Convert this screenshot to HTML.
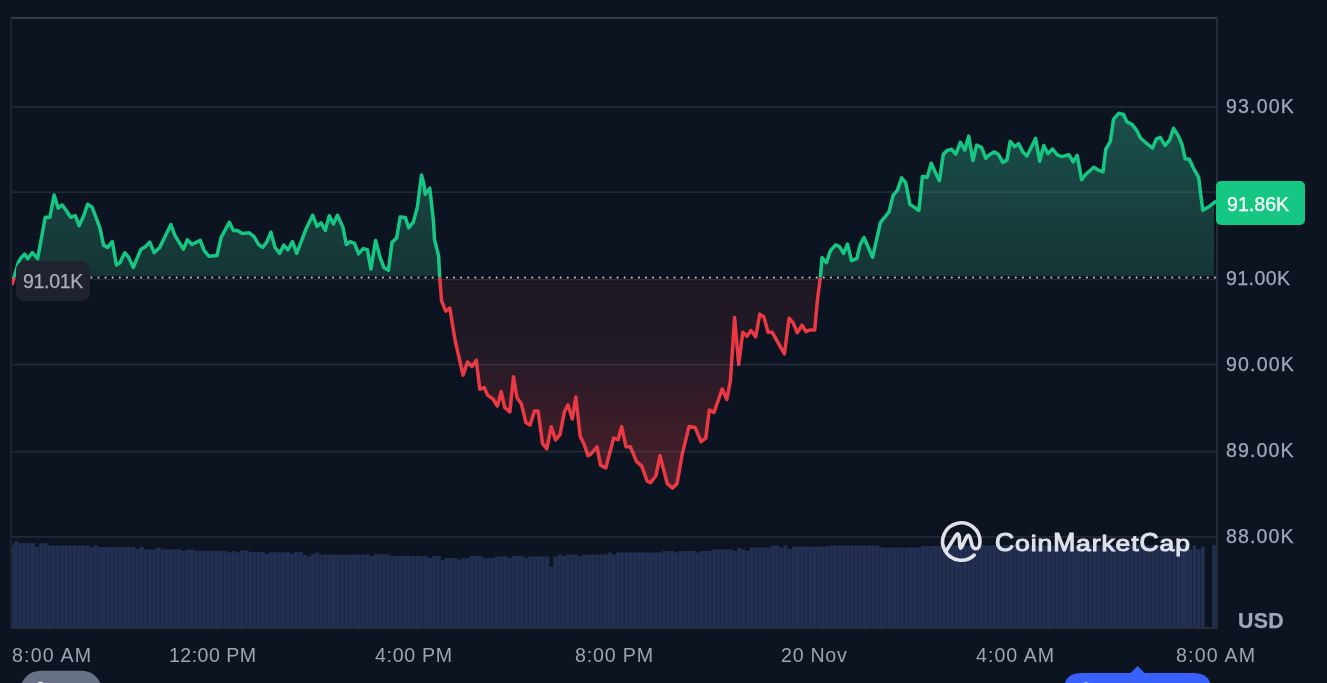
<!DOCTYPE html>
<html><head><meta charset="utf-8"><style>
html,body{margin:0;padding:0;background:#0d1421;width:1327px;height:683px;overflow:hidden}
body{position:relative;font-family:"Liberation Sans",sans-serif}
svg{position:absolute;left:0;top:0}
.t{will-change:transform;position:absolute;white-space:nowrap;color:#a1a7bb;font-size:19.6px;line-height:20px;-webkit-text-stroke:0.25px currentColor}
</style></head><body>
<svg width="1327" height="683" viewBox="0 0 1327 683">
<defs>
<linearGradient id="gg" gradientUnits="userSpaceOnUse" x1="0" y1="113" x2="0" y2="277.5">
<stop offset="0" stop-color="#1b504a"/><stop offset="1" stop-color="#153535"/></linearGradient>
<linearGradient id="rg" gradientUnits="userSpaceOnUse" x1="0" y1="277.5" x2="0" y2="490">
<stop offset="0" stop-color="#1f1823"/><stop offset="0.33" stop-color="#211926"/><stop offset="0.38" stop-color="#251a27"/><stop offset="0.575" stop-color="#331b27"/><stop offset="0.74" stop-color="#3d1e28"/><stop offset="0.89" stop-color="#441e2b"/><stop offset="1" stop-color="#48202c"/></linearGradient>
<clipPath id="cu"><rect x="0" y="0" width="1327" height="277.5"/></clipPath>
<clipPath id="cuf"><rect x="0" y="0" width="1214" height="277.5"/></clipPath>
<clipPath id="cd"><rect x="0" y="277.5" width="1327" height="683"/></clipPath>
</defs>
<g fill="#233052"><rect x="12" y="545" width="2.1" height="82"/><rect x="14.15" y="541.4" width="4.18" height="85.6"/><rect x="18.33" y="543.2" width="4.18" height="83.8"/><rect x="22.51" y="543.2" width="4.18" height="83.8"/><rect x="26.69" y="543.2" width="4.18" height="83.8"/><rect x="30.87" y="543.2" width="4.18" height="83.8"/><rect x="35.05" y="547" width="4.18" height="80.0"/><rect x="39.23" y="543.3" width="4.18" height="83.7"/><rect x="43.41" y="543.3" width="4.18" height="83.7"/><rect x="47.59" y="545.5" width="4.18" height="81.5"/><rect x="51.77" y="545.5" width="4.18" height="81.5"/><rect x="55.96" y="545.5" width="4.18" height="81.5"/><rect x="60.14" y="545.5" width="4.18" height="81.5"/><rect x="64.32" y="545.5" width="4.18" height="81.5"/><rect x="68.50" y="545.5" width="4.18" height="81.5"/><rect x="72.68" y="545.5" width="4.18" height="81.5"/><rect x="76.86" y="545.5" width="4.18" height="81.5"/><rect x="81.04" y="545.5" width="4.18" height="81.5"/><rect x="85.22" y="545.5" width="4.18" height="81.5"/><rect x="89.40" y="547" width="4.18" height="80.0"/><rect x="93.58" y="545.3" width="4.18" height="81.7"/><rect x="97.76" y="547" width="4.18" height="80.0"/><rect x="101.94" y="547" width="4.18" height="80.0"/><rect x="106.12" y="547" width="4.18" height="80.0"/><rect x="110.30" y="547" width="4.18" height="80.0"/><rect x="114.48" y="547" width="4.18" height="80.0"/><rect x="118.66" y="547" width="4.18" height="80.0"/><rect x="122.84" y="547" width="4.18" height="80.0"/><rect x="127.03" y="547" width="4.18" height="80.0"/><rect x="131.21" y="547" width="4.18" height="80.0"/><rect x="135.39" y="549" width="4.18" height="78.0"/><rect x="139.57" y="547" width="4.18" height="80.0"/><rect x="143.75" y="549.5" width="4.18" height="77.5"/><rect x="147.93" y="549.5" width="4.18" height="77.5"/><rect x="152.11" y="549.5" width="4.18" height="77.5"/><rect x="156.29" y="547.5" width="4.18" height="79.5"/><rect x="160.47" y="549.5" width="4.18" height="77.5"/><rect x="164.65" y="549.5" width="4.18" height="77.5"/><rect x="168.83" y="549.5" width="4.18" height="77.5"/><rect x="173.01" y="549.5" width="4.18" height="77.5"/><rect x="177.19" y="549.5" width="4.18" height="77.5"/><rect x="181.37" y="551" width="4.18" height="76.0"/><rect x="185.55" y="549.5" width="4.18" height="77.5"/><rect x="189.73" y="549.5" width="4.18" height="77.5"/><rect x="193.91" y="550.8" width="4.18" height="76.2"/><rect x="198.09" y="550.8" width="4.18" height="76.2"/><rect x="202.28" y="550.8" width="4.18" height="76.2"/><rect x="206.46" y="550.8" width="4.18" height="76.2"/><rect x="210.64" y="550.8" width="4.18" height="76.2"/><rect x="214.82" y="550.8" width="4.18" height="76.2"/><rect x="219.00" y="550.8" width="4.18" height="76.2"/><rect x="223.18" y="550.8" width="4.18" height="76.2"/><rect x="227.36" y="552.5" width="4.18" height="74.5"/><rect x="231.54" y="551" width="4.18" height="76.0"/><rect x="235.72" y="552.5" width="4.18" height="74.5"/><rect x="239.90" y="550.5" width="4.18" height="76.5"/><rect x="244.08" y="550.5" width="4.18" height="76.5"/><rect x="248.26" y="552" width="4.18" height="75.0"/><rect x="252.44" y="552" width="4.18" height="75.0"/><rect x="256.62" y="552" width="4.18" height="75.0"/><rect x="260.80" y="552" width="4.18" height="75.0"/><rect x="264.98" y="554" width="4.18" height="73.0"/><rect x="269.16" y="552.3" width="4.18" height="74.7"/><rect x="273.34" y="552.3" width="4.18" height="74.7"/><rect x="277.52" y="552.3" width="4.18" height="74.7"/><rect x="281.71" y="552.3" width="4.18" height="74.7"/><rect x="285.89" y="552.3" width="4.18" height="74.7"/><rect x="290.07" y="554" width="4.18" height="73.0"/><rect x="294.25" y="552" width="4.18" height="75.0"/><rect x="298.43" y="552" width="4.18" height="75.0"/><rect x="302.61" y="555" width="4.18" height="72.0"/><rect x="306.79" y="556.5" width="4.18" height="70.5"/><rect x="310.97" y="554" width="4.18" height="73.0"/><rect x="315.15" y="552.6" width="4.18" height="74.4"/><rect x="319.33" y="554.5" width="4.18" height="72.5"/><rect x="323.51" y="554.5" width="4.18" height="72.5"/><rect x="327.69" y="554.5" width="4.18" height="72.5"/><rect x="331.87" y="554.5" width="4.18" height="72.5"/><rect x="336.05" y="554.5" width="4.18" height="72.5"/><rect x="340.23" y="554.5" width="4.18" height="72.5"/><rect x="344.41" y="554.5" width="4.18" height="72.5"/><rect x="348.59" y="554.5" width="4.18" height="72.5"/><rect x="352.77" y="554.5" width="4.18" height="72.5"/><rect x="356.96" y="554.5" width="4.18" height="72.5"/><rect x="361.14" y="554.5" width="4.18" height="72.5"/><rect x="365.32" y="554.5" width="4.18" height="72.5"/><rect x="369.50" y="556" width="4.18" height="71.0"/><rect x="373.68" y="554.3" width="4.18" height="72.7"/><rect x="377.86" y="554.3" width="4.18" height="72.7"/><rect x="382.04" y="554.3" width="4.18" height="72.7"/><rect x="386.22" y="554.3" width="4.18" height="72.7"/><rect x="390.40" y="556" width="4.18" height="71.0"/><rect x="394.58" y="556" width="4.18" height="71.0"/><rect x="398.76" y="556" width="4.18" height="71.0"/><rect x="402.94" y="556" width="4.18" height="71.0"/><rect x="407.12" y="556" width="4.18" height="71.0"/><rect x="411.30" y="556" width="4.18" height="71.0"/><rect x="415.48" y="556" width="4.18" height="71.0"/><rect x="419.66" y="556" width="4.18" height="71.0"/><rect x="423.84" y="556" width="4.18" height="71.0"/><rect x="428.02" y="558" width="4.18" height="69.0"/><rect x="432.21" y="556" width="4.18" height="71.0"/><rect x="436.39" y="556" width="4.18" height="71.0"/><rect x="440.57" y="560" width="4.18" height="67.0"/><rect x="444.75" y="558" width="4.18" height="69.0"/><rect x="448.93" y="558" width="4.18" height="69.0"/><rect x="453.11" y="558" width="4.18" height="69.0"/><rect x="457.29" y="559.5" width="4.18" height="67.5"/><rect x="461.47" y="558" width="4.18" height="69.0"/><rect x="465.65" y="558" width="4.18" height="69.0"/><rect x="469.83" y="556" width="4.18" height="71.0"/><rect x="474.01" y="556" width="4.18" height="71.0"/><rect x="478.19" y="556" width="4.18" height="71.0"/><rect x="482.37" y="558" width="4.18" height="69.0"/><rect x="486.55" y="558" width="4.18" height="69.0"/><rect x="490.73" y="558" width="4.18" height="69.0"/><rect x="494.91" y="556.5" width="4.18" height="70.5"/><rect x="499.09" y="556.5" width="4.18" height="70.5"/><rect x="503.27" y="556.5" width="4.18" height="70.5"/><rect x="507.46" y="558" width="4.18" height="69.0"/><rect x="511.64" y="556" width="4.18" height="71.0"/><rect x="515.82" y="556" width="4.18" height="71.0"/><rect x="520.00" y="556" width="4.18" height="71.0"/><rect x="524.18" y="558.5" width="4.18" height="68.5"/><rect x="528.36" y="556.5" width="4.18" height="70.5"/><rect x="532.54" y="556.5" width="4.18" height="70.5"/><rect x="536.72" y="556.5" width="4.18" height="70.5"/><rect x="540.90" y="556.5" width="4.18" height="70.5"/><rect x="545.08" y="556.5" width="4.18" height="70.5"/><rect x="549.26" y="566.6" width="4.18" height="60.4"/><rect x="553.44" y="556.5" width="4.18" height="70.5"/><rect x="557.62" y="554.5" width="4.18" height="72.5"/><rect x="561.80" y="556" width="4.18" height="71.0"/><rect x="565.98" y="554.5" width="4.18" height="72.5"/><rect x="570.16" y="554.5" width="4.18" height="72.5"/><rect x="574.34" y="554.5" width="4.18" height="72.5"/><rect x="578.52" y="556" width="4.18" height="71.0"/><rect x="582.71" y="554.5" width="4.18" height="72.5"/><rect x="586.89" y="554.5" width="4.18" height="72.5"/><rect x="591.07" y="554.5" width="4.18" height="72.5"/><rect x="595.25" y="554.5" width="4.18" height="72.5"/><rect x="599.43" y="554.5" width="4.18" height="72.5"/><rect x="603.61" y="554.5" width="4.18" height="72.5"/><rect x="607.79" y="552.5" width="4.18" height="74.5"/><rect x="611.97" y="554.5" width="4.18" height="72.5"/><rect x="616.15" y="552.5" width="4.18" height="74.5"/><rect x="620.33" y="552.5" width="4.18" height="74.5"/><rect x="624.51" y="552.5" width="4.18" height="74.5"/><rect x="628.69" y="552.5" width="4.18" height="74.5"/><rect x="632.87" y="552.5" width="4.18" height="74.5"/><rect x="637.05" y="552.5" width="4.18" height="74.5"/><rect x="641.23" y="552.5" width="4.18" height="74.5"/><rect x="645.41" y="552.5" width="4.18" height="74.5"/><rect x="649.59" y="552.5" width="4.18" height="74.5"/><rect x="653.77" y="552.5" width="4.18" height="74.5"/><rect x="657.96" y="552.5" width="4.18" height="74.5"/><rect x="662.14" y="551" width="4.18" height="76.0"/><rect x="666.32" y="551" width="4.18" height="76.0"/><rect x="670.50" y="551" width="4.18" height="76.0"/><rect x="674.68" y="552.5" width="4.18" height="74.5"/><rect x="678.86" y="551" width="4.18" height="76.0"/><rect x="683.04" y="551" width="4.18" height="76.0"/><rect x="687.22" y="551" width="4.18" height="76.0"/><rect x="691.40" y="551" width="4.18" height="76.0"/><rect x="695.58" y="552.5" width="4.18" height="74.5"/><rect x="699.76" y="551" width="4.18" height="76.0"/><rect x="703.94" y="551" width="4.18" height="76.0"/><rect x="708.12" y="551" width="4.18" height="76.0"/><rect x="712.30" y="549.5" width="4.18" height="77.5"/><rect x="716.48" y="549.5" width="4.18" height="77.5"/><rect x="720.66" y="549.5" width="4.18" height="77.5"/><rect x="724.84" y="549.5" width="4.18" height="77.5"/><rect x="729.02" y="549.5" width="4.18" height="77.5"/><rect x="733.21" y="551" width="4.18" height="76.0"/><rect x="737.39" y="548" width="4.18" height="79.0"/><rect x="741.57" y="549.5" width="4.18" height="77.5"/><rect x="745.75" y="551" width="4.18" height="76.0"/><rect x="749.93" y="547.5" width="4.18" height="79.5"/><rect x="754.11" y="547.5" width="4.18" height="79.5"/><rect x="758.29" y="547.5" width="4.18" height="79.5"/><rect x="762.47" y="547.5" width="4.18" height="79.5"/><rect x="766.65" y="547.5" width="4.18" height="79.5"/><rect x="770.83" y="545.5" width="4.18" height="81.5"/><rect x="775.01" y="545.5" width="4.18" height="81.5"/><rect x="779.19" y="547.5" width="4.18" height="79.5"/><rect x="783.37" y="545.5" width="4.18" height="81.5"/><rect x="787.55" y="549" width="4.18" height="78.0"/><rect x="791.73" y="546.5" width="4.18" height="80.5"/><rect x="795.91" y="546.5" width="4.18" height="80.5"/><rect x="800.09" y="546.5" width="4.18" height="80.5"/><rect x="804.27" y="546.5" width="4.18" height="80.5"/><rect x="808.46" y="546.5" width="4.18" height="80.5"/><rect x="812.64" y="546.5" width="4.18" height="80.5"/><rect x="816.82" y="546.5" width="4.18" height="80.5"/><rect x="821.00" y="546.5" width="4.18" height="80.5"/><rect x="825.18" y="546.5" width="4.18" height="80.5"/><rect x="829.36" y="545.5" width="4.18" height="81.5"/><rect x="833.54" y="545.5" width="4.18" height="81.5"/><rect x="837.72" y="545.5" width="4.18" height="81.5"/><rect x="841.90" y="545.5" width="4.18" height="81.5"/><rect x="846.08" y="545.5" width="4.18" height="81.5"/><rect x="850.26" y="545.5" width="4.18" height="81.5"/><rect x="854.44" y="545.5" width="4.18" height="81.5"/><rect x="858.62" y="545.5" width="4.18" height="81.5"/><rect x="862.80" y="545.5" width="4.18" height="81.5"/><rect x="866.98" y="545.5" width="4.18" height="81.5"/><rect x="871.16" y="545.5" width="4.18" height="81.5"/><rect x="875.34" y="545.5" width="4.18" height="81.5"/><rect x="879.52" y="547.5" width="4.18" height="79.5"/><rect x="883.71" y="547.5" width="4.18" height="79.5"/><rect x="887.89" y="547.5" width="4.18" height="79.5"/><rect x="892.07" y="547.5" width="4.18" height="79.5"/><rect x="896.25" y="547.5" width="4.18" height="79.5"/><rect x="900.43" y="547.5" width="4.18" height="79.5"/><rect x="904.61" y="547.5" width="4.18" height="79.5"/><rect x="908.79" y="547.5" width="4.18" height="79.5"/><rect x="912.97" y="547.5" width="4.18" height="79.5"/><rect x="917.15" y="547.5" width="4.18" height="79.5"/><rect x="921.33" y="546" width="4.18" height="81.0"/><rect x="925.51" y="546" width="4.18" height="81.0"/><rect x="929.69" y="546" width="4.18" height="81.0"/><rect x="933.87" y="546" width="4.18" height="81.0"/><rect x="938.05" y="545.5" width="4.18" height="81.5"/><rect x="942.23" y="545.5" width="4.18" height="81.5"/><rect x="946.41" y="545.5" width="4.18" height="81.5"/><rect x="950.59" y="545.5" width="4.18" height="81.5"/><rect x="954.77" y="545.5" width="4.18" height="81.5"/><rect x="958.96" y="545.5" width="4.18" height="81.5"/><rect x="963.14" y="545.5" width="4.18" height="81.5"/><rect x="967.32" y="545.5" width="4.18" height="81.5"/><rect x="971.50" y="545.5" width="4.18" height="81.5"/><rect x="975.68" y="545.5" width="4.18" height="81.5"/><rect x="979.86" y="545.5" width="4.18" height="81.5"/><rect x="984.04" y="545.5" width="4.18" height="81.5"/><rect x="988.22" y="545.5" width="4.18" height="81.5"/><rect x="992.40" y="545.5" width="4.18" height="81.5"/><rect x="996.58" y="545.5" width="4.18" height="81.5"/><rect x="1000.76" y="545.5" width="4.18" height="81.5"/><rect x="1004.94" y="545.5" width="4.18" height="81.5"/><rect x="1009.12" y="545.5" width="4.18" height="81.5"/><rect x="1013.30" y="545.5" width="4.18" height="81.5"/><rect x="1017.48" y="545.5" width="4.18" height="81.5"/><rect x="1021.66" y="545.5" width="4.18" height="81.5"/><rect x="1025.84" y="545.5" width="4.18" height="81.5"/><rect x="1030.03" y="545.5" width="4.18" height="81.5"/><rect x="1034.21" y="545.5" width="4.18" height="81.5"/><rect x="1038.39" y="545.5" width="4.18" height="81.5"/><rect x="1042.57" y="545.5" width="4.18" height="81.5"/><rect x="1046.75" y="545.5" width="4.18" height="81.5"/><rect x="1050.93" y="545.5" width="4.18" height="81.5"/><rect x="1055.11" y="545.5" width="4.18" height="81.5"/><rect x="1059.29" y="545.5" width="4.18" height="81.5"/><rect x="1063.47" y="545.5" width="4.18" height="81.5"/><rect x="1067.65" y="545.5" width="4.18" height="81.5"/><rect x="1071.83" y="545.5" width="4.18" height="81.5"/><rect x="1076.01" y="545.5" width="4.18" height="81.5"/><rect x="1080.19" y="545.5" width="4.18" height="81.5"/><rect x="1084.37" y="545.5" width="4.18" height="81.5"/><rect x="1088.55" y="545.5" width="4.18" height="81.5"/><rect x="1092.73" y="545.5" width="4.18" height="81.5"/><rect x="1096.91" y="545.5" width="4.18" height="81.5"/><rect x="1101.09" y="545.5" width="4.18" height="81.5"/><rect x="1105.28" y="545.5" width="4.18" height="81.5"/><rect x="1109.46" y="545.5" width="4.18" height="81.5"/><rect x="1113.64" y="545.5" width="4.18" height="81.5"/><rect x="1117.82" y="545.5" width="4.18" height="81.5"/><rect x="1122.00" y="545.5" width="4.18" height="81.5"/><rect x="1126.18" y="545.5" width="4.18" height="81.5"/><rect x="1130.36" y="545.5" width="4.18" height="81.5"/><rect x="1134.54" y="545.5" width="4.18" height="81.5"/><rect x="1138.72" y="545.5" width="4.18" height="81.5"/><rect x="1142.90" y="545.5" width="4.18" height="81.5"/><rect x="1147.08" y="545.5" width="4.18" height="81.5"/><rect x="1151.26" y="545.5" width="4.18" height="81.5"/><rect x="1155.44" y="545.5" width="4.18" height="81.5"/><rect x="1159.62" y="545.5" width="4.18" height="81.5"/><rect x="1163.80" y="545.5" width="4.18" height="81.5"/><rect x="1167.98" y="545.5" width="4.18" height="81.5"/><rect x="1172.16" y="545.5" width="4.18" height="81.5"/><rect x="1176.34" y="545.5" width="4.18" height="81.5"/><rect x="1180.525" y="545" width="8.27" height="82.0"/><rect x="1189" y="549.2" width="3.40" height="77.8"/><rect x="1192.7" y="545.3" width="3.40" height="81.7"/><rect x="1196.4" y="549.2" width="4.20" height="77.8"/><rect x="1200.9" y="547.1" width="3.80" height="79.9"/><rect x="1212.2" y="545.3" width="3.60" height="81.7"/></g>
<path d="M14.1,545V627M17.93,541.4V627M22.11,543.2V627M26.29,543.2V627M30.47,543.2V627M34.65,543.2V627M38.83,547V627M43.01,543.3V627M47.19,543.3V627M51.38,545.5V627M55.56,545.5V627M59.74,545.5V627M63.92,545.5V627M68.10,545.5V627M72.28,545.5V627M76.46,545.5V627M80.64,545.5V627M84.82,545.5V627M89.00,545.5V627M93.18,547V627M97.36,545.3V627M101.54,547V627M105.72,547V627M109.90,547V627M114.08,547V627M118.26,547V627M122.44,547V627M126.62,547V627M130.81,547V627M134.99,547V627M139.17,549V627M143.35,547V627M147.53,549.5V627M151.71,549.5V627M155.89,549.5V627M160.07,547.5V627M164.25,549.5V627M168.43,549.5V627M172.61,549.5V627M176.79,549.5V627M180.97,549.5V627M185.15,551V627M189.33,549.5V627M193.51,549.5V627M197.69,550.8V627M201.87,550.8V627M206.06,550.8V627M210.24,550.8V627M214.42,550.8V627M218.60,550.8V627M222.78,550.8V627M226.96,550.8V627M231.14,552.5V627M235.32,551V627M239.50,552.5V627M243.68,550.5V627M247.86,550.5V627M252.04,552V627M256.22,552V627M260.40,552V627M264.58,552V627M268.76,554V627M272.94,552.3V627M277.12,552.3V627M281.31,552.3V627M285.49,552.3V627M289.67,552.3V627M293.85,554V627M298.03,552V627M302.21,552V627M306.39,555V627M310.57,556.5V627M314.75,554V627M318.93,552.6V627M323.11,554.5V627M327.29,554.5V627M331.47,554.5V627M335.65,554.5V627M339.83,554.5V627M344.01,554.5V627M348.19,554.5V627M352.38,554.5V627M356.56,554.5V627M360.74,554.5V627M364.92,554.5V627M369.10,554.5V627M373.28,556V627M377.46,554.3V627M381.64,554.3V627M385.82,554.3V627M390.00,554.3V627M394.18,556V627M398.36,556V627M402.54,556V627M406.72,556V627M410.90,556V627M415.08,556V627M419.26,556V627M423.44,556V627M427.62,556V627M431.81,558V627M435.99,556V627M440.17,556V627M444.35,560V627M448.53,558V627M452.71,558V627M456.89,558V627M461.07,559.5V627M465.25,558V627M469.43,558V627M473.61,556V627M477.79,556V627M481.97,556V627M486.15,558V627M490.33,558V627M494.51,558V627M498.69,556.5V627M502.87,556.5V627M507.06,556.5V627M511.24,558V627M515.42,556V627M519.60,556V627M523.78,556V627M527.96,558.5V627M532.14,556.5V627M536.32,556.5V627M540.50,556.5V627M544.68,556.5V627M548.86,556.5V627M553.04,566.6V627M557.22,556.5V627M561.40,554.5V627M565.58,556V627M569.76,554.5V627M573.94,554.5V627M578.12,554.5V627M582.31,556V627M586.49,554.5V627M590.67,554.5V627M594.85,554.5V627M599.03,554.5V627M603.21,554.5V627M607.39,554.5V627M611.57,552.5V627M615.75,554.5V627M619.93,552.5V627M624.11,552.5V627M628.29,552.5V627M632.47,552.5V627M636.65,552.5V627M640.83,552.5V627M645.01,552.5V627M649.19,552.5V627M653.38,552.5V627M657.56,552.5V627M661.74,552.5V627M665.92,551V627M670.10,551V627M674.28,551V627M678.46,552.5V627M682.64,551V627M686.82,551V627M691.00,551V627M695.18,551V627M699.36,552.5V627M703.54,551V627M707.72,551V627M711.90,551V627M716.08,549.5V627M720.26,549.5V627M724.44,549.5V627M728.62,549.5V627M732.81,549.5V627M736.99,551V627M741.17,548V627M745.35,549.5V627M749.53,551V627M753.71,547.5V627M757.89,547.5V627M762.07,547.5V627M766.25,547.5V627M770.43,547.5V627M774.61,545.5V627M778.79,545.5V627M782.97,547.5V627M787.15,545.5V627M791.33,549V627M795.51,546.5V627M799.69,546.5V627M803.88,546.5V627M808.06,546.5V627M812.24,546.5V627M816.42,546.5V627M820.60,546.5V627M824.78,546.5V627M828.96,546.5V627M833.14,545.5V627M837.32,545.5V627M841.50,545.5V627M845.68,545.5V627M849.86,545.5V627M854.04,545.5V627M858.22,545.5V627M862.40,545.5V627M866.58,545.5V627M870.76,545.5V627M874.94,545.5V627M879.12,545.5V627M883.31,547.5V627M887.49,547.5V627M891.67,547.5V627M895.85,547.5V627M900.03,547.5V627M904.21,547.5V627M908.39,547.5V627M912.57,547.5V627M916.75,547.5V627M920.93,547.5V627M925.11,546V627M929.29,546V627M933.47,546V627M937.65,546V627M941.83,545.5V627M946.01,545.5V627M950.19,545.5V627M954.37,545.5V627M958.56,545.5V627M962.74,545.5V627M966.92,545.5V627M971.10,545.5V627M975.28,545.5V627M979.46,545.5V627M983.64,545.5V627M987.82,545.5V627M992.00,545.5V627M996.18,545.5V627M1000.36,545.5V627M1004.54,545.5V627M1008.72,545.5V627M1012.90,545.5V627M1017.08,545.5V627M1021.26,545.5V627M1025.44,545.5V627M1029.62,545.5V627M1033.81,545.5V627M1037.99,545.5V627M1042.17,545.5V627M1046.35,545.5V627M1050.53,545.5V627M1054.71,545.5V627M1058.89,545.5V627M1063.07,545.5V627M1067.25,545.5V627M1071.43,545.5V627M1075.61,545.5V627M1079.79,545.5V627M1083.97,545.5V627M1088.15,545.5V627M1092.33,545.5V627M1096.51,545.5V627M1100.69,545.5V627M1104.88,545.5V627M1109.06,545.5V627M1113.24,545.5V627M1117.42,545.5V627M1121.60,545.5V627M1125.78,545.5V627M1129.96,545.5V627M1134.14,545.5V627M1138.32,545.5V627M1142.50,545.5V627M1146.68,545.5V627M1150.86,545.5V627M1155.04,545.5V627M1159.22,545.5V627M1163.40,545.5V627M1167.58,545.5V627M1171.76,545.5V627M1175.94,545.5V627M1180.12,545.5V627" stroke="#1e2847" stroke-width="0.8" fill="none"/>
<path d="M12.3,283.8 L14.7,275.2 L18.2,262.9 L20.5,258.5 L24.6,254.1 L27.7,258.7 L32.3,252.6 L37.6,258.7 L45.3,217.3 L49.9,217.3 L54.1,195 L58.1,208 L62.2,205 L66.1,210.3 L70.7,217.3 L75.3,215.7 L79.1,225.7 L83.7,215.7 L87.6,204.2 L92.2,207.3 L100,228.1 L103.5,245.1 L107.6,247.4 L112.3,241.6 L116.4,265 L119.9,262.7 L124.8,252.7 L128.7,257.4 L133.4,267.4 L137.5,257.4 L141,249.2 L144.5,247.4 L149.8,242.2 L154.1,252.7 L159.7,247.4 L170.9,224.6 L175,235.7 L183.4,249.2 L187.3,239.8 L192,244.5 L200.2,240.4 L204.1,250.4 L208.8,256.2 L217,255.6 L221.1,237.5 L229.3,222.3 L233.4,230.5 L237.5,230.5 L242.2,233.4 L249.2,232.8 L253.9,236.3 L258.6,244.5 L262.7,247.4 L266.8,242.2 L270.9,232.2 L275,247.4 L279.7,253.3 L283.8,245.1 L287.9,249.8 L292.5,241.6 L296.7,253.3 L301.9,239.8 L305.9,229.3 L312.7,215.2 L317,226.4 L321.1,222.8 L325.2,230.5 L329.3,215.8 L333.4,224 L337.5,215.2 L342.8,226.9 L346.3,244.5 L350.4,241.6 L354.5,243.3 L358.6,253.9 L363.3,248.6 L367.4,249.8 L370.9,269.1 L375.6,240.4 L379.7,256.2 L383.8,267.4 L388.4,270.3 L392,242.2 L396.6,238.1 L400.2,217 L405.4,217.6 L408.7,227.9 L413.3,222.2 L417.4,206.9 L421.5,175.1 L423.8,183.5 L425.2,194.3 L429.8,188.2 L433.4,221 L434.5,239.4 L438.6,255.8 L439.6,276.3 L441.6,300.9 L445.7,311.1 L449.8,308.1 L455.2,341 L463.1,375.2 L467.5,362 L471.9,366.5 L476.3,360.3 L479.8,389.3 L484.2,387.5 L487.7,395.4 L493,399 L497.4,406 L501.2,391.6 L504.7,407.5 L509.9,411.8 L513.5,376.7 L517,397.8 L521.4,403.9 L525.8,422.4 L530.1,425 L534.5,411 L538.1,411 L542.5,443.5 L546.8,448.8 L551.2,426.8 L555.6,440 L560,434.7 L564.4,411.8 L567.9,404.8 L572.3,418.9 L575.8,396.9 L580.2,436.4 L583.8,443.5 L588.1,455.8 L591,454 L597,446.8 L600.5,465.2 L605.8,467.9 L613.7,438 L618.1,439.8 L621.6,426.6 L626,446.8 L630.4,446.8 L636.6,461.7 L641.8,466.1 L647.1,481 L650.6,482.8 L655.9,475.8 L660,455.6 L667.3,483.7 L672.6,488.1 L677,483.7 L682.3,453.8 L689,426.6 L695.2,427.6 L701.1,441.7 L705.8,438.2 L709.3,410 L714,412.4 L722.2,389 L726.8,399.5 L730.4,380.8 L734.6,317.6 L738.7,364.4 L742.8,332.2 L746.9,336.3 L751,330.5 L755.7,336.9 L759.8,314.1 L763.9,317 L768,332.2 L772.1,332.2 L784.4,353.9 L789.1,318.2 L793.2,322.8 L797.3,332.8 L802,325.2 L806.1,331.6 L810.2,329.9 L814.7,330.1 L817.6,298.6 L820.5,276.6 L822,257.6 L826.4,262.7 L830.4,250.7 L835.7,244.8 L839.6,246.8 L843.6,253.4 L847.5,244.1 L851.5,260.6 L856.8,258.6 L860.1,244.8 L864,237.5 L872.6,257.3 L880.5,222.4 L889,212 L893.2,195.2 L897.4,190.4 L901.6,177.9 L905.7,182.7 L909.9,204.3 L914.1,207.1 L918.9,210.5 L922.4,176.5 L927.3,177.2 L931.2,163.2 L935.6,173 L939.5,180.6 L943.3,154.2 L946.8,150.7 L951.6,149.3 L955.8,154.2 L960.4,142.4 L964.8,150 L968.7,136.1 L972.9,160.5 L976.7,145.2 L981.5,147.3 L985.8,158.3 L989.4,154.8 L994.1,151.9 L998.2,154.2 L1002.8,162.4 L1006.9,160.1 L1010.2,141.4 L1014.6,146.6 L1018.7,143.7 L1022.8,151.9 L1026.9,156 L1031,147.8 L1035.6,138.4 L1039.7,161.3 L1043.8,145.5 L1047.9,153.7 L1052.6,149 L1057.3,154.8 L1062,156.6 L1069,154.8 L1073.1,161.9 L1077.2,155.4 L1081.6,179.8 L1085.4,174.7 L1093.8,167.2 L1097.8,169.8 L1103.1,171.8 L1105.7,149.4 L1110.3,141.5 L1113.6,119.1 L1118.9,113.2 L1123.5,114.5 L1126.8,121.7 L1132,124.4 L1136.7,130.3 L1140.6,138.2 L1145.9,142.8 L1152.5,148.1 L1156.4,138.9 L1160.4,137.5 L1165,145.5 L1169.6,140.2 L1173.5,128.3 L1178.2,135.6 L1182.1,144.8 L1185.2,158.8 L1189.3,159.3 L1193.4,168.1 L1198.7,177.5 L1200.5,192.7 L1202.8,210.3 L1208.7,206.8 L1215.7,201.5 L1215.7,277.5 L12.3,277.5 Z" fill="url(#gg)" clip-path="url(#cuf)"/>
<path d="M12.3,283.8 L14.7,275.2 L18.2,262.9 L20.5,258.5 L24.6,254.1 L27.7,258.7 L32.3,252.6 L37.6,258.7 L45.3,217.3 L49.9,217.3 L54.1,195 L58.1,208 L62.2,205 L66.1,210.3 L70.7,217.3 L75.3,215.7 L79.1,225.7 L83.7,215.7 L87.6,204.2 L92.2,207.3 L100,228.1 L103.5,245.1 L107.6,247.4 L112.3,241.6 L116.4,265 L119.9,262.7 L124.8,252.7 L128.7,257.4 L133.4,267.4 L137.5,257.4 L141,249.2 L144.5,247.4 L149.8,242.2 L154.1,252.7 L159.7,247.4 L170.9,224.6 L175,235.7 L183.4,249.2 L187.3,239.8 L192,244.5 L200.2,240.4 L204.1,250.4 L208.8,256.2 L217,255.6 L221.1,237.5 L229.3,222.3 L233.4,230.5 L237.5,230.5 L242.2,233.4 L249.2,232.8 L253.9,236.3 L258.6,244.5 L262.7,247.4 L266.8,242.2 L270.9,232.2 L275,247.4 L279.7,253.3 L283.8,245.1 L287.9,249.8 L292.5,241.6 L296.7,253.3 L301.9,239.8 L305.9,229.3 L312.7,215.2 L317,226.4 L321.1,222.8 L325.2,230.5 L329.3,215.8 L333.4,224 L337.5,215.2 L342.8,226.9 L346.3,244.5 L350.4,241.6 L354.5,243.3 L358.6,253.9 L363.3,248.6 L367.4,249.8 L370.9,269.1 L375.6,240.4 L379.7,256.2 L383.8,267.4 L388.4,270.3 L392,242.2 L396.6,238.1 L400.2,217 L405.4,217.6 L408.7,227.9 L413.3,222.2 L417.4,206.9 L421.5,175.1 L423.8,183.5 L425.2,194.3 L429.8,188.2 L433.4,221 L434.5,239.4 L438.6,255.8 L439.6,276.3 L441.6,300.9 L445.7,311.1 L449.8,308.1 L455.2,341 L463.1,375.2 L467.5,362 L471.9,366.5 L476.3,360.3 L479.8,389.3 L484.2,387.5 L487.7,395.4 L493,399 L497.4,406 L501.2,391.6 L504.7,407.5 L509.9,411.8 L513.5,376.7 L517,397.8 L521.4,403.9 L525.8,422.4 L530.1,425 L534.5,411 L538.1,411 L542.5,443.5 L546.8,448.8 L551.2,426.8 L555.6,440 L560,434.7 L564.4,411.8 L567.9,404.8 L572.3,418.9 L575.8,396.9 L580.2,436.4 L583.8,443.5 L588.1,455.8 L591,454 L597,446.8 L600.5,465.2 L605.8,467.9 L613.7,438 L618.1,439.8 L621.6,426.6 L626,446.8 L630.4,446.8 L636.6,461.7 L641.8,466.1 L647.1,481 L650.6,482.8 L655.9,475.8 L660,455.6 L667.3,483.7 L672.6,488.1 L677,483.7 L682.3,453.8 L689,426.6 L695.2,427.6 L701.1,441.7 L705.8,438.2 L709.3,410 L714,412.4 L722.2,389 L726.8,399.5 L730.4,380.8 L734.6,317.6 L738.7,364.4 L742.8,332.2 L746.9,336.3 L751,330.5 L755.7,336.9 L759.8,314.1 L763.9,317 L768,332.2 L772.1,332.2 L784.4,353.9 L789.1,318.2 L793.2,322.8 L797.3,332.8 L802,325.2 L806.1,331.6 L810.2,329.9 L814.7,330.1 L817.6,298.6 L820.5,276.6 L822,257.6 L826.4,262.7 L830.4,250.7 L835.7,244.8 L839.6,246.8 L843.6,253.4 L847.5,244.1 L851.5,260.6 L856.8,258.6 L860.1,244.8 L864,237.5 L872.6,257.3 L880.5,222.4 L889,212 L893.2,195.2 L897.4,190.4 L901.6,177.9 L905.7,182.7 L909.9,204.3 L914.1,207.1 L918.9,210.5 L922.4,176.5 L927.3,177.2 L931.2,163.2 L935.6,173 L939.5,180.6 L943.3,154.2 L946.8,150.7 L951.6,149.3 L955.8,154.2 L960.4,142.4 L964.8,150 L968.7,136.1 L972.9,160.5 L976.7,145.2 L981.5,147.3 L985.8,158.3 L989.4,154.8 L994.1,151.9 L998.2,154.2 L1002.8,162.4 L1006.9,160.1 L1010.2,141.4 L1014.6,146.6 L1018.7,143.7 L1022.8,151.9 L1026.9,156 L1031,147.8 L1035.6,138.4 L1039.7,161.3 L1043.8,145.5 L1047.9,153.7 L1052.6,149 L1057.3,154.8 L1062,156.6 L1069,154.8 L1073.1,161.9 L1077.2,155.4 L1081.6,179.8 L1085.4,174.7 L1093.8,167.2 L1097.8,169.8 L1103.1,171.8 L1105.7,149.4 L1110.3,141.5 L1113.6,119.1 L1118.9,113.2 L1123.5,114.5 L1126.8,121.7 L1132,124.4 L1136.7,130.3 L1140.6,138.2 L1145.9,142.8 L1152.5,148.1 L1156.4,138.9 L1160.4,137.5 L1165,145.5 L1169.6,140.2 L1173.5,128.3 L1178.2,135.6 L1182.1,144.8 L1185.2,158.8 L1189.3,159.3 L1193.4,168.1 L1198.7,177.5 L1200.5,192.7 L1202.8,210.3 L1208.7,206.8 L1215.7,201.5 L1215.7,277.5 L12.3,277.5 Z" fill="url(#rg)" clip-path="url(#cd)"/>
<path d="M12,277.5H1216" stroke="#0a0e17" stroke-width="2.6"/>
<path d="M13.16,277.5h0M20.27,277.5h0M27.38,277.5h0M34.49,277.5h0M41.60,277.5h0M48.71,277.5h0M55.82,277.5h0M62.93,277.5h0M70.04,277.5h0M77.16,277.5h0M84.27,277.5h0M91.38,277.5h0M98.49,277.5h0M105.60,277.5h0M112.71,277.5h0M119.82,277.5h0M126.93,277.5h0M134.04,277.5h0M141.16,277.5h0M148.27,277.5h0M155.38,277.5h0M162.49,277.5h0M169.60,277.5h0M176.71,277.5h0M183.82,277.5h0M190.93,277.5h0M198.04,277.5h0M205.15,277.5h0M212.26,277.5h0M219.38,277.5h0M226.49,277.5h0M233.60,277.5h0M240.71,277.5h0M247.82,277.5h0M254.93,277.5h0M262.04,277.5h0M269.15,277.5h0M276.26,277.5h0M283.38,277.5h0M290.49,277.5h0M297.60,277.5h0M304.71,277.5h0M311.82,277.5h0M318.93,277.5h0M326.04,277.5h0M333.15,277.5h0M340.26,277.5h0M347.37,277.5h0M354.49,277.5h0M361.60,277.5h0M368.71,277.5h0M375.82,277.5h0M382.93,277.5h0M390.04,277.5h0M397.15,277.5h0M404.26,277.5h0M411.37,277.5h0M418.48,277.5h0M425.60,277.5h0M432.71,277.5h0M439.82,277.5h0M446.93,277.5h0M454.04,277.5h0M461.15,277.5h0M468.26,277.5h0M475.37,277.5h0M482.48,277.5h0M489.59,277.5h0M496.70,277.5h0M503.82,277.5h0M510.93,277.5h0M518.04,277.5h0M525.15,277.5h0M532.26,277.5h0M539.37,277.5h0M546.48,277.5h0M553.59,277.5h0M560.70,277.5h0M567.81,277.5h0M574.93,277.5h0M582.04,277.5h0M589.15,277.5h0M596.26,277.5h0M603.37,277.5h0M610.48,277.5h0M617.59,277.5h0M624.70,277.5h0M631.81,277.5h0M638.92,277.5h0M646.04,277.5h0M653.15,277.5h0M660.26,277.5h0M667.37,277.5h0M674.48,277.5h0M681.59,277.5h0M688.70,277.5h0M695.81,277.5h0M702.92,277.5h0M710.03,277.5h0M717.15,277.5h0M724.26,277.5h0M731.37,277.5h0M738.48,277.5h0M745.59,277.5h0M752.70,277.5h0M759.81,277.5h0M766.92,277.5h0M774.03,277.5h0M781.14,277.5h0M788.26,277.5h0M795.37,277.5h0M802.48,277.5h0M809.59,277.5h0M816.70,277.5h0M823.81,277.5h0M830.92,277.5h0M838.03,277.5h0M845.14,277.5h0M852.25,277.5h0M859.37,277.5h0M866.48,277.5h0M873.59,277.5h0M880.70,277.5h0M887.81,277.5h0M894.92,277.5h0M902.03,277.5h0M909.14,277.5h0M916.25,277.5h0M923.37,277.5h0M930.48,277.5h0M937.59,277.5h0M944.70,277.5h0M951.81,277.5h0M958.92,277.5h0M966.03,277.5h0M973.14,277.5h0M980.25,277.5h0M987.36,277.5h0M994.48,277.5h0M1001.59,277.5h0M1008.70,277.5h0M1015.81,277.5h0M1022.92,277.5h0M1030.03,277.5h0M1037.14,277.5h0M1044.25,277.5h0M1051.36,277.5h0M1058.47,277.5h0M1065.59,277.5h0M1072.70,277.5h0M1079.81,277.5h0M1086.92,277.5h0M1094.03,277.5h0M1101.14,277.5h0M1108.25,277.5h0M1115.36,277.5h0M1122.47,277.5h0M1129.58,277.5h0M1136.69,277.5h0M1143.81,277.5h0M1150.92,277.5h0M1158.03,277.5h0M1165.14,277.5h0M1172.25,277.5h0M1179.36,277.5h0M1186.47,277.5h0M1193.58,277.5h0M1200.69,277.5h0M1207.80,277.5h0M1214.92,277.5h0" stroke="#c4c8d0" stroke-width="2.1" stroke-linecap="round" fill="none"/>
<path d="M12.3,283.8 L14.7,275.2 L18.2,262.9 L20.5,258.5 L24.6,254.1 L27.7,258.7 L32.3,252.6 L37.6,258.7 L45.3,217.3 L49.9,217.3 L54.1,195 L58.1,208 L62.2,205 L66.1,210.3 L70.7,217.3 L75.3,215.7 L79.1,225.7 L83.7,215.7 L87.6,204.2 L92.2,207.3 L100,228.1 L103.5,245.1 L107.6,247.4 L112.3,241.6 L116.4,265 L119.9,262.7 L124.8,252.7 L128.7,257.4 L133.4,267.4 L137.5,257.4 L141,249.2 L144.5,247.4 L149.8,242.2 L154.1,252.7 L159.7,247.4 L170.9,224.6 L175,235.7 L183.4,249.2 L187.3,239.8 L192,244.5 L200.2,240.4 L204.1,250.4 L208.8,256.2 L217,255.6 L221.1,237.5 L229.3,222.3 L233.4,230.5 L237.5,230.5 L242.2,233.4 L249.2,232.8 L253.9,236.3 L258.6,244.5 L262.7,247.4 L266.8,242.2 L270.9,232.2 L275,247.4 L279.7,253.3 L283.8,245.1 L287.9,249.8 L292.5,241.6 L296.7,253.3 L301.9,239.8 L305.9,229.3 L312.7,215.2 L317,226.4 L321.1,222.8 L325.2,230.5 L329.3,215.8 L333.4,224 L337.5,215.2 L342.8,226.9 L346.3,244.5 L350.4,241.6 L354.5,243.3 L358.6,253.9 L363.3,248.6 L367.4,249.8 L370.9,269.1 L375.6,240.4 L379.7,256.2 L383.8,267.4 L388.4,270.3 L392,242.2 L396.6,238.1 L400.2,217 L405.4,217.6 L408.7,227.9 L413.3,222.2 L417.4,206.9 L421.5,175.1 L423.8,183.5 L425.2,194.3 L429.8,188.2 L433.4,221 L434.5,239.4 L438.6,255.8 L439.6,276.3 L441.6,300.9 L445.7,311.1 L449.8,308.1 L455.2,341 L463.1,375.2 L467.5,362 L471.9,366.5 L476.3,360.3 L479.8,389.3 L484.2,387.5 L487.7,395.4 L493,399 L497.4,406 L501.2,391.6 L504.7,407.5 L509.9,411.8 L513.5,376.7 L517,397.8 L521.4,403.9 L525.8,422.4 L530.1,425 L534.5,411 L538.1,411 L542.5,443.5 L546.8,448.8 L551.2,426.8 L555.6,440 L560,434.7 L564.4,411.8 L567.9,404.8 L572.3,418.9 L575.8,396.9 L580.2,436.4 L583.8,443.5 L588.1,455.8 L591,454 L597,446.8 L600.5,465.2 L605.8,467.9 L613.7,438 L618.1,439.8 L621.6,426.6 L626,446.8 L630.4,446.8 L636.6,461.7 L641.8,466.1 L647.1,481 L650.6,482.8 L655.9,475.8 L660,455.6 L667.3,483.7 L672.6,488.1 L677,483.7 L682.3,453.8 L689,426.6 L695.2,427.6 L701.1,441.7 L705.8,438.2 L709.3,410 L714,412.4 L722.2,389 L726.8,399.5 L730.4,380.8 L734.6,317.6 L738.7,364.4 L742.8,332.2 L746.9,336.3 L751,330.5 L755.7,336.9 L759.8,314.1 L763.9,317 L768,332.2 L772.1,332.2 L784.4,353.9 L789.1,318.2 L793.2,322.8 L797.3,332.8 L802,325.2 L806.1,331.6 L810.2,329.9 L814.7,330.1 L817.6,298.6 L820.5,276.6 L822,257.6 L826.4,262.7 L830.4,250.7 L835.7,244.8 L839.6,246.8 L843.6,253.4 L847.5,244.1 L851.5,260.6 L856.8,258.6 L860.1,244.8 L864,237.5 L872.6,257.3 L880.5,222.4 L889,212 L893.2,195.2 L897.4,190.4 L901.6,177.9 L905.7,182.7 L909.9,204.3 L914.1,207.1 L918.9,210.5 L922.4,176.5 L927.3,177.2 L931.2,163.2 L935.6,173 L939.5,180.6 L943.3,154.2 L946.8,150.7 L951.6,149.3 L955.8,154.2 L960.4,142.4 L964.8,150 L968.7,136.1 L972.9,160.5 L976.7,145.2 L981.5,147.3 L985.8,158.3 L989.4,154.8 L994.1,151.9 L998.2,154.2 L1002.8,162.4 L1006.9,160.1 L1010.2,141.4 L1014.6,146.6 L1018.7,143.7 L1022.8,151.9 L1026.9,156 L1031,147.8 L1035.6,138.4 L1039.7,161.3 L1043.8,145.5 L1047.9,153.7 L1052.6,149 L1057.3,154.8 L1062,156.6 L1069,154.8 L1073.1,161.9 L1077.2,155.4 L1081.6,179.8 L1085.4,174.7 L1093.8,167.2 L1097.8,169.8 L1103.1,171.8 L1105.7,149.4 L1110.3,141.5 L1113.6,119.1 L1118.9,113.2 L1123.5,114.5 L1126.8,121.7 L1132,124.4 L1136.7,130.3 L1140.6,138.2 L1145.9,142.8 L1152.5,148.1 L1156.4,138.9 L1160.4,137.5 L1165,145.5 L1169.6,140.2 L1173.5,128.3 L1178.2,135.6 L1182.1,144.8 L1185.2,158.8 L1189.3,159.3 L1193.4,168.1 L1198.7,177.5 L1200.5,192.7 L1202.8,210.3 L1208.7,206.8 L1215.7,201.5" stroke="#16c784" stroke-width="3.5" fill="none" stroke-linejoin="round" stroke-linecap="round" clip-path="url(#cu)"/>
<path d="M12.3,283.8 L14.7,275.2 L18.2,262.9 L20.5,258.5 L24.6,254.1 L27.7,258.7 L32.3,252.6 L37.6,258.7 L45.3,217.3 L49.9,217.3 L54.1,195 L58.1,208 L62.2,205 L66.1,210.3 L70.7,217.3 L75.3,215.7 L79.1,225.7 L83.7,215.7 L87.6,204.2 L92.2,207.3 L100,228.1 L103.5,245.1 L107.6,247.4 L112.3,241.6 L116.4,265 L119.9,262.7 L124.8,252.7 L128.7,257.4 L133.4,267.4 L137.5,257.4 L141,249.2 L144.5,247.4 L149.8,242.2 L154.1,252.7 L159.7,247.4 L170.9,224.6 L175,235.7 L183.4,249.2 L187.3,239.8 L192,244.5 L200.2,240.4 L204.1,250.4 L208.8,256.2 L217,255.6 L221.1,237.5 L229.3,222.3 L233.4,230.5 L237.5,230.5 L242.2,233.4 L249.2,232.8 L253.9,236.3 L258.6,244.5 L262.7,247.4 L266.8,242.2 L270.9,232.2 L275,247.4 L279.7,253.3 L283.8,245.1 L287.9,249.8 L292.5,241.6 L296.7,253.3 L301.9,239.8 L305.9,229.3 L312.7,215.2 L317,226.4 L321.1,222.8 L325.2,230.5 L329.3,215.8 L333.4,224 L337.5,215.2 L342.8,226.9 L346.3,244.5 L350.4,241.6 L354.5,243.3 L358.6,253.9 L363.3,248.6 L367.4,249.8 L370.9,269.1 L375.6,240.4 L379.7,256.2 L383.8,267.4 L388.4,270.3 L392,242.2 L396.6,238.1 L400.2,217 L405.4,217.6 L408.7,227.9 L413.3,222.2 L417.4,206.9 L421.5,175.1 L423.8,183.5 L425.2,194.3 L429.8,188.2 L433.4,221 L434.5,239.4 L438.6,255.8 L439.6,276.3 L441.6,300.9 L445.7,311.1 L449.8,308.1 L455.2,341 L463.1,375.2 L467.5,362 L471.9,366.5 L476.3,360.3 L479.8,389.3 L484.2,387.5 L487.7,395.4 L493,399 L497.4,406 L501.2,391.6 L504.7,407.5 L509.9,411.8 L513.5,376.7 L517,397.8 L521.4,403.9 L525.8,422.4 L530.1,425 L534.5,411 L538.1,411 L542.5,443.5 L546.8,448.8 L551.2,426.8 L555.6,440 L560,434.7 L564.4,411.8 L567.9,404.8 L572.3,418.9 L575.8,396.9 L580.2,436.4 L583.8,443.5 L588.1,455.8 L591,454 L597,446.8 L600.5,465.2 L605.8,467.9 L613.7,438 L618.1,439.8 L621.6,426.6 L626,446.8 L630.4,446.8 L636.6,461.7 L641.8,466.1 L647.1,481 L650.6,482.8 L655.9,475.8 L660,455.6 L667.3,483.7 L672.6,488.1 L677,483.7 L682.3,453.8 L689,426.6 L695.2,427.6 L701.1,441.7 L705.8,438.2 L709.3,410 L714,412.4 L722.2,389 L726.8,399.5 L730.4,380.8 L734.6,317.6 L738.7,364.4 L742.8,332.2 L746.9,336.3 L751,330.5 L755.7,336.9 L759.8,314.1 L763.9,317 L768,332.2 L772.1,332.2 L784.4,353.9 L789.1,318.2 L793.2,322.8 L797.3,332.8 L802,325.2 L806.1,331.6 L810.2,329.9 L814.7,330.1 L817.6,298.6 L820.5,276.6 L822,257.6 L826.4,262.7 L830.4,250.7 L835.7,244.8 L839.6,246.8 L843.6,253.4 L847.5,244.1 L851.5,260.6 L856.8,258.6 L860.1,244.8 L864,237.5 L872.6,257.3 L880.5,222.4 L889,212 L893.2,195.2 L897.4,190.4 L901.6,177.9 L905.7,182.7 L909.9,204.3 L914.1,207.1 L918.9,210.5 L922.4,176.5 L927.3,177.2 L931.2,163.2 L935.6,173 L939.5,180.6 L943.3,154.2 L946.8,150.7 L951.6,149.3 L955.8,154.2 L960.4,142.4 L964.8,150 L968.7,136.1 L972.9,160.5 L976.7,145.2 L981.5,147.3 L985.8,158.3 L989.4,154.8 L994.1,151.9 L998.2,154.2 L1002.8,162.4 L1006.9,160.1 L1010.2,141.4 L1014.6,146.6 L1018.7,143.7 L1022.8,151.9 L1026.9,156 L1031,147.8 L1035.6,138.4 L1039.7,161.3 L1043.8,145.5 L1047.9,153.7 L1052.6,149 L1057.3,154.8 L1062,156.6 L1069,154.8 L1073.1,161.9 L1077.2,155.4 L1081.6,179.8 L1085.4,174.7 L1093.8,167.2 L1097.8,169.8 L1103.1,171.8 L1105.7,149.4 L1110.3,141.5 L1113.6,119.1 L1118.9,113.2 L1123.5,114.5 L1126.8,121.7 L1132,124.4 L1136.7,130.3 L1140.6,138.2 L1145.9,142.8 L1152.5,148.1 L1156.4,138.9 L1160.4,137.5 L1165,145.5 L1169.6,140.2 L1173.5,128.3 L1178.2,135.6 L1182.1,144.8 L1185.2,158.8 L1189.3,159.3 L1193.4,168.1 L1198.7,177.5 L1200.5,192.7 L1202.8,210.3 L1208.7,206.8 L1215.7,201.5" stroke="#ea3943" stroke-width="3.5" fill="none" stroke-linejoin="round" stroke-linecap="round" clip-path="url(#cd)"/>
<path d="M12,106.8H1216M12,192.1H1216M12,279.4H1216M12,364.7H1216M12,451.7H1216M12,536.8H1216" stroke="rgba(150,158,180,0.15)" stroke-width="1.8" fill="none"/>
<path d="M11,18H1217.5" stroke="#353c4c" stroke-width="2" fill="none"/>
<path d="M11,18V628" stroke="#1d2230" stroke-width="2" fill="none"/>
<path d="M1217,18V628" stroke="#262c3a" stroke-width="2" fill="none"/>
<path d="M11,628H1218" stroke="#272c38" stroke-width="2" fill="none"/>
<!-- left open label -->
<rect x="16" y="261" width="74" height="40" rx="9" fill="rgba(31,35,48,0.96)"/>
<!-- right current label -->
<rect x="1216" y="181" width="89" height="44" rx="5" fill="#16c784"/>
<!-- CMC logo -->
<g fill="none" stroke="#dfe2e8" stroke-width="3.6" stroke-linecap="round" stroke-linejoin="round">
<path d="M974.2,555.1 A18.7,18.7 0 1 1 980,541.5 Q980,549 975.5,548.8 Q973,548.5 972,545 L970.2,538 Q968.6,533 966.5,537 L962,546.5 Q960.4,550 959.8,546 L959.3,537 Q958.4,531.5 955.8,535.5 L946.1,551.1"/>
</g>
<!-- bottom pills -->
<rect x="20.2" y="670.8" width="81.7" height="40" rx="20" fill="#687186"/>
<ellipse cx="40.5" cy="684" rx="3" ry="2.2" fill="#e8eaee"/>
<path d="M1064,690 Q1064,673 1081,673 L1130.6,673 L1137.6,666 L1144.6,673 L1194,673 Q1211,673 1211,690 Z" fill="#3861fb"/>
<ellipse cx="1086" cy="684" rx="2.5" ry="2" fill="#8fd3ff"/>
</svg>
<div class="t" style="left:23.2px;top:270.5px;color:#a9aebb;letter-spacing:-0.35px">91.01K</div>
<div class="t" style="left:1226.3px;top:96.3px;letter-spacing:1.15px">93.00K</div>
<div class="t" style="left:1226.3px;top:267.5px;letter-spacing:0.4px">91.00K</div>
<div class="t" style="left:1226.3px;top:353.5px;letter-spacing:1.15px">90.00K</div>
<div class="t" style="left:1226.3px;top:440px;letter-spacing:1.1px">89.00K</div>
<div class="t" style="left:1226.3px;top:525.5px;letter-spacing:1.1px">88.00K</div>
<div class="t" style="left:1227px;top:194px;color:#fff">91.86K</div>
<div class="t" style="left:1237.5px;top:610.8px;font-weight:bold;font-size:21.3px;letter-spacing:0.3px">USD</div>
<div class="t" style="left:11.6px;top:644.5px;letter-spacing:1.2px;-webkit-text-stroke:0;color:#9ea3b2">8:00 AM</div>
<div class="t" style="left:169px;top:644.5px;letter-spacing:0.45px;-webkit-text-stroke:0;color:#9ea3b2">12:00 PM</div>
<div class="t" style="left:375px;top:644.5px;letter-spacing:0.7px;-webkit-text-stroke:0;color:#9ea3b2">4:00 PM</div>
<div class="t" style="left:574.6px;top:644.5px;letter-spacing:0.83px;-webkit-text-stroke:0;color:#9ea3b2">8:00 PM</div>
<div class="t" style="left:781px;top:644.5px;letter-spacing:0.74px;-webkit-text-stroke:0;color:#9ea3b2">20 Nov</div>
<div class="t" style="left:976.4px;top:644.5px;letter-spacing:1.03px;-webkit-text-stroke:0;color:#9ea3b2">4:00 AM</div>
<div class="t" style="left:1176px;top:644.5px;letter-spacing:1.18px;-webkit-text-stroke:0;color:#9ea3b2">8:00 AM</div>
<div class="t" style="left:994.6px;top:529px;font-size:26.5px;line-height:27px;letter-spacing:0.9px;-webkit-text-stroke:1.15px #dfe2e8;color:#dfe2e8">C<span style="display:inline-block;transform:scaleY(0.86);transform-origin:0 22.7px">oin</span>M<span style="display:inline-block;transform:scaleY(0.86);transform-origin:0 22.7px">arket</span>C<span style="display:inline-block;transform:scaleY(0.86);transform-origin:0 22.7px">ap</span></div>
</body></html>
